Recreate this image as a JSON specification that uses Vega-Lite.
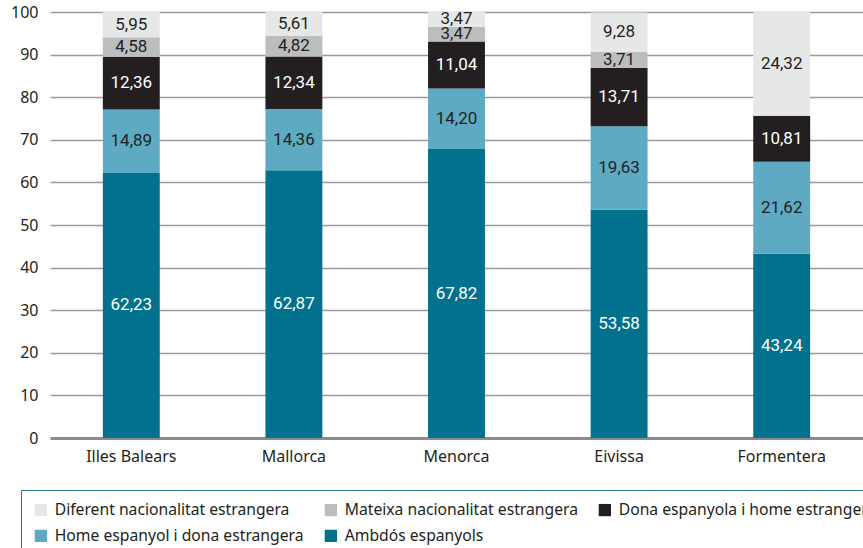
{
  "$schema": "https://vega.github.io/schema/vega-lite/v6.json",
  "width": 813,
  "height": 426,
  "autosize": "none",
  "padding": {"left": 50, "top": 12, "right": 0, "bottom": 110},
  "background": "white",
  "config": {
    "font": "Noto Sans",
    "view": {"stroke": null}
  },
  "data": {
    "values": [
      {"zona": "Illes Balears", "tipus": "Ambdós espanyols", "valor": 62.23, "etiqueta": "62,23", "ordre": 1},
      {"zona": "Illes Balears", "tipus": "Home espanyol i dona estrangera", "valor": 14.89, "etiqueta": "14,89", "ordre": 2},
      {"zona": "Illes Balears", "tipus": "Dona espanyola i home estranger", "valor": 12.36, "etiqueta": "12,36", "ordre": 3},
      {"zona": "Illes Balears", "tipus": "Mateixa nacionalitat estrangera", "valor": 4.58, "etiqueta": "4,58", "ordre": 4},
      {"zona": "Illes Balears", "tipus": "Diferent nacionalitat estrangera", "valor": 5.95, "etiqueta": "5,95", "ordre": 5},
      {"zona": "Mallorca", "tipus": "Ambdós espanyols", "valor": 62.87, "etiqueta": "62,87", "ordre": 1},
      {"zona": "Mallorca", "tipus": "Home espanyol i dona estrangera", "valor": 14.36, "etiqueta": "14,36", "ordre": 2},
      {"zona": "Mallorca", "tipus": "Dona espanyola i home estranger", "valor": 12.34, "etiqueta": "12,34", "ordre": 3},
      {"zona": "Mallorca", "tipus": "Mateixa nacionalitat estrangera", "valor": 4.82, "etiqueta": "4,82", "ordre": 4},
      {"zona": "Mallorca", "tipus": "Diferent nacionalitat estrangera", "valor": 5.61, "etiqueta": "5,61", "ordre": 5},
      {"zona": "Menorca", "tipus": "Ambdós espanyols", "valor": 67.82, "etiqueta": "67,82", "ordre": 1},
      {"zona": "Menorca", "tipus": "Home espanyol i dona estrangera", "valor": 14.20, "etiqueta": "14,20", "ordre": 2},
      {"zona": "Menorca", "tipus": "Dona espanyola i home estranger", "valor": 11.04, "etiqueta": "11,04", "ordre": 3},
      {"zona": "Menorca", "tipus": "Mateixa nacionalitat estrangera", "valor": 3.47, "etiqueta": "3,47", "ordre": 4},
      {"zona": "Menorca", "tipus": "Diferent nacionalitat estrangera", "valor": 3.47, "etiqueta": "3,47", "ordre": 5},
      {"zona": "Eivissa", "tipus": "Ambdós espanyols", "valor": 53.58, "etiqueta": "53,58", "ordre": 1},
      {"zona": "Eivissa", "tipus": "Home espanyol i dona estrangera", "valor": 19.63, "etiqueta": "19,63", "ordre": 2},
      {"zona": "Eivissa", "tipus": "Dona espanyola i home estranger", "valor": 13.71, "etiqueta": "13,71", "ordre": 3},
      {"zona": "Eivissa", "tipus": "Mateixa nacionalitat estrangera", "valor": 3.71, "etiqueta": "3,71", "ordre": 4},
      {"zona": "Eivissa", "tipus": "Diferent nacionalitat estrangera", "valor": 9.28, "etiqueta": "9,28", "ordre": 5},
      {"zona": "Formentera", "tipus": "Ambdós espanyols", "valor": 43.24, "etiqueta": "43,24", "ordre": 1},
      {"zona": "Formentera", "tipus": "Home espanyol i dona estrangera", "valor": 21.62, "etiqueta": "21,62", "ordre": 2},
      {"zona": "Formentera", "tipus": "Dona espanyola i home estranger", "valor": 10.81, "etiqueta": "10,81", "ordre": 3},
      {"zona": "Formentera", "tipus": "Diferent nacionalitat estrangera", "valor": 24.32, "etiqueta": "24,32", "ordre": 5}
    ]
  },
  "encoding": {
    "x": {
      "field": "zona",
      "type": "nominal",
      "sort": ["Illes Balears", "Mallorca", "Menorca", "Eivissa", "Formentera"],
      "scale": {"paddingInner": 0.65, "paddingOuter": 0.325},
      "axis": {
        "title": null,
        "labelAngle": 0,
        "labelFontSize": 16,
        "labelColor": "#231f20",
        "labelPadding": 10,
        "ticks": false,
        "domainColor": "#8c8c8c",
        "domainWidth": 3,
        "grid": false
      }
    },
    "y": {
      "field": "valor",
      "type": "quantitative",
      "stack": "zero",
      "scale": {"domain": [0, 100], "nice": false},
      "axis": {
        "title": null,
        "values": [0, 10, 20, 30, 40, 50, 60, 70, 80, 90, 100],
        "labelFontSize": 16,
        "labelColor": "#231f20",
        "labelPadding": 12,
        "ticks": false,
        "domain": false,
        "gridColor": "#9a9a9a",
        "gridWidth": 1.5
      }
    },
    "order": {"field": "ordre", "type": "quantitative"}
  },
  "layer": [
    {
      "mark": {"type": "bar"},
      "encoding": {
        "color": {
          "field": "tipus",
          "type": "nominal",
          "scale": {
            "domain": ["Diferent nacionalitat estrangera", "Mateixa nacionalitat estrangera", "Dona espanyola i home estranger", "Home espanyol i dona estrangera", "Ambdós espanyols"],
            "range": ["#e6e7e7", "#bcbdbf", "#231f20", "#5eaac2", "#02718e"]
          },
          "legend": {
            "title": null,
            "orient": "none",
            "legendX": -29,
            "legendY": 478,
            "direction": "horizontal",
            "columns": 3,
            "columnPadding": 19,
            "rowPadding": 9,
            "symbolType": "square",
            "symbolSize": 150,
            "symbolStrokeWidth": 0,
            "symbolOpacity": 1,
            "labelFontSize": 15.7,
            "labelColor": "#231f20",
            "labelOffset": 6,
            "labelLimit": 400,
            "strokeColor": "#2a7a93",
            "padding": 12
          }
        }
      }
    },
    {
      "mark": {"type": "text", "fontSize": 17, "font": "Roboto", "baseline": "middle"},
      "encoding": {
        "y": {
          "field": "valor",
          "type": "quantitative",
          "stack": "zero",
          "bandPosition": 0.5
        },
        "text": {"field": "etiqueta", "type": "nominal"},
        "color": {
          "condition": {"test": "datum.tipus === 'Ambdós espanyols' || datum.tipus === 'Dona espanyola i home estranger'", "value": "white"},
          "value": "#231f20"
        }
      }
    }
  ]
}
